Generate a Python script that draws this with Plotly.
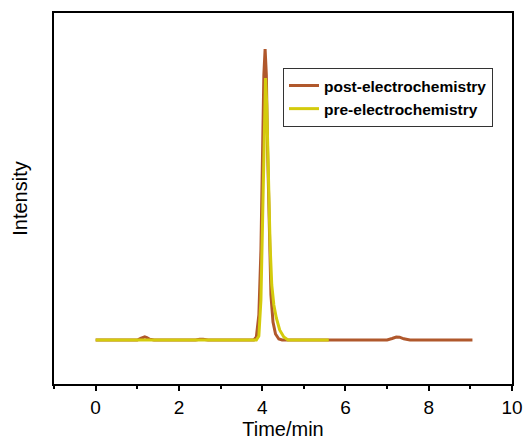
import plotly.graph_objects as go

# Chromatogram traces (time in minutes, intensity in arbitrary units)
post_time = [0.0, 1.0, 1.08, 1.14, 1.18, 1.23, 1.3, 1.4, 2.4, 2.5, 2.58, 2.7, 3.8,
             3.86, 3.92, 3.97, 4.01, 4.04, 4.07, 4.10, 4.13, 4.17, 4.21, 4.26, 4.32,
             4.40, 4.48, 5.5, 7.0, 7.12, 7.22, 7.3, 7.4, 7.55, 9.05]
post_intensity = [0, 0, 1.5, 3, 3.2, 2.5, 0.8, 0, 0, 0.8, 0.8, 0, 0,
                  3, 25, 90, 190, 265, 291, 265, 190, 100, 45, 18, 6,
                  1, 0, 0, 0, 1.5, 3, 2.8, 1.2, 0, 0]

pre_time = [0.0, 3.86, 3.92, 3.97, 4.01, 4.05, 4.08, 4.11, 4.15, 4.19, 4.23,
            4.28, 4.34, 4.42, 4.52, 4.62, 5.6]
pre_intensity = [0, 0, 4, 40, 120, 220, 262, 235, 160, 95, 55,
                 35, 22, 10, 3, 0, 0]

x_ticks = [0, 2, 4, 6, 8, 10]

FONT = "Arial, Liberation Sans, sans-serif"

fig = go.Figure()
fig.add_trace(go.Scatter(
    x=post_time, y=post_intensity, mode="lines", name="post-electrochemistry",
    line=dict(color="#B0582C", width=3),
))
fig.add_trace(go.Scatter(
    x=pre_time, y=pre_intensity, mode="lines", name="pre-electrochemistry",
    line=dict(color="#D4CB0C", width=3),
))

fig.update_layout(
    width=528, height=443,
    margin=dict(l=54, r=16, t=13, b=59),
    paper_bgcolor="white", plot_bgcolor="white",
    font=dict(family=FONT, color="black"),
    legend=dict(
        x=0.5, y=0.852, xanchor="left", yanchor="top",
        bgcolor="white", bordercolor="#333333", borderwidth=1,
        font=dict(family=FONT, size=15.5, color="black", weight="bold"),
        tracegroupgap=0,
    ),
)

fig.update_xaxes(
    range=[-1, 10], tickvals=x_ticks, ticks="outside", ticklen=5, tickwidth=1.5,
    tickcolor="black", tickfont=dict(size=19), showgrid=False, zeroline=False,
    showline=True, linecolor="black", linewidth=1.5, mirror=True, automargin=False,
    minor=dict(tickvals=[-1, 1, 3, 5, 7, 9], ticks="outside", ticklen=3,
               tickwidth=1.5, tickcolor="black"),
    title=dict(text="Time/min", font=dict(size=20), standoff=4),
)
fig.update_yaxes(
    range=[-44, 327], showticklabels=False, ticks="", showgrid=False,
    zeroline=False, showline=True, linecolor="black", linewidth=1.5, mirror=True,
    automargin=False,
    title=dict(text="Intensity", font=dict(size=20), standoff=19),
)

fig.write_html("out.html")
